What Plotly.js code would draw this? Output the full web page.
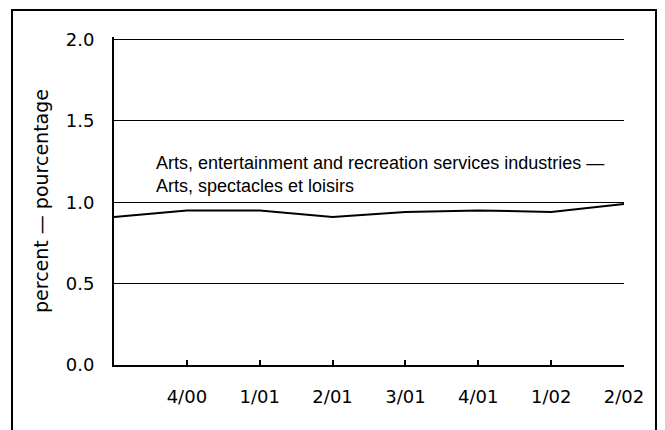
<!DOCTYPE html>
<html>
<head>
<meta charset="utf-8">
<script src="https://cdn.plot.ly/plotly-3.0.1.min.js"></script>
<style>html,body{margin:0;padding:0;background:#fff;}#chart{width:665px;height:430px;}</style>
</head>
<body>
<div id="chart"></div>
<script>
// Quarters (first point is unlabeled in the original)
const quarterLabels = ['', '4/00', '1/01', '2/01', '3/01', '4/01', '1/02', '2/02'];
// Arts, entertainment and recreation services industries — percent
const artsShare = [0.91, 0.95, 0.95, 0.91, 0.94, 0.95, 0.94, 0.99];
const yTicks = [0, 0.5, 1.0, 1.5, 2.0];
const seriesLabel = 'Arts, entertainment and recreation services industries —<br>Arts, spectacles et loisirs';
const yTitle = 'percent — pourcentage';

const xIdx = quarterLabels.map((_, i) => i);

const trace = {
  x: xIdx,
  y: artsShare,
  type: 'scatter',
  mode: 'lines',
  line: {color: '#000', width: 2},
  hoverinfo: 'skip',
  showlegend: false
};

const layout = {
  width: 665,
  height: 430,
  margin: {l: 114, r: 41, t: 37, b: 65, pad: 0},
  paper_bgcolor: '#fff',
  plot_bgcolor: '#fff',
  showlegend: false,
  xaxis: {
    range: [0, xIdx.length - 1],
    tickvals: xIdx,
    ticktext: quarterLabels,
    ticks: 'inside',
    ticklen: 5,
    tickwidth: 2,
    tickcolor: '#000',
    showline: true,
    linecolor: '#000',
    linewidth: 2,
    showgrid: false,
    zeroline: false,
    ticklabelstandoff: 14,
    tickfont: {family: 'DejaVu Sans, Arial, sans-serif', size: 18, color: '#000'}
  },
  yaxis: {
    range: [0, 2.0154],
    tickvals: yTicks,
    tickformat: '.1f',
    ticks: '',
    showline: true,
    linecolor: '#000',
    linewidth: 2,
    showgrid: true,
    gridcolor: '#000',
    gridwidth: 1,
    zeroline: false,
    ticklabelstandoff: 14,
    tickfont: {family: 'DejaVu Sans, Arial, sans-serif', size: 18, color: '#000'},
    title: {text: yTitle, standoff: 12, font: {family: 'DejaVu Sans, Arial, sans-serif', size: 19, color: '#000'}}
  },
  annotations: [{
    xref: 'x', yref: 'y',
    x: 0.55, y: 1.17,
    xanchor: 'left', yanchor: 'middle',
    align: 'left',
    showarrow: false,
    text: seriesLabel,
    font: {family: 'Liberation Sans, Arial, sans-serif', size: 18, color: '#000'}
  }],
  shapes: [{
    type: 'rect', xref: 'paper', yref: 'paper',
    x0: -0.2, x1: 1.0627, y0: -0.25, y1: 1.0823,
    line: {color: '#000', width: 2},
    fillcolor: 'rgba(0,0,0,0)',
    layer: 'below'
  }]
};

Plotly.newPlot('chart', [trace], layout, {staticPlot: true, displayModeBar: false});
</script>
</body>
</html>
